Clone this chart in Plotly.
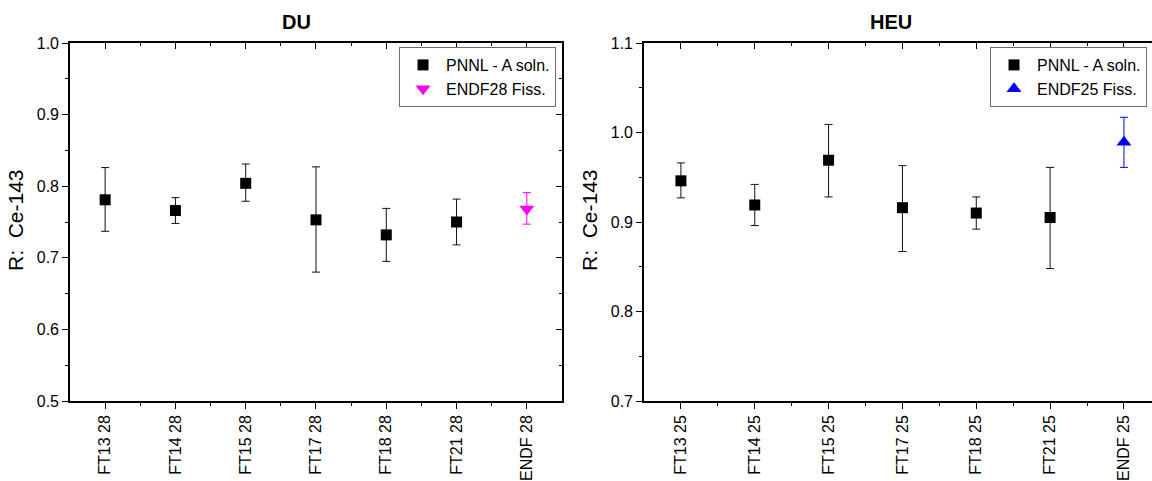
import plotly.graph_objects as go

# ---------------- data ----------------
du_labels = ["FT13 28", "FT14 28", "FT15 28", "FT17 28", "FT18 28", "FT21 28", "ENDF 28"]
du_pnnl = [0.781, 0.766, 0.804, 0.753, 0.732, 0.750]
du_pnnl_hi = [0.826, 0.784, 0.831, 0.827, 0.769, 0.782]
du_pnnl_lo = [0.737, 0.748, 0.779, 0.680, 0.695, 0.718]
du_endf = [0.768]
du_endf_hi = [0.791]
du_endf_lo = [0.747]

heu_labels = ["FT13 25", "FT14 25", "FT15 25", "FT17 25", "FT18 25", "FT21 25", "ENDF 25"]
heu_pnnl = [0.946, 0.919, 0.969, 0.916, 0.910, 0.905]
heu_pnnl_hi = [0.966, 0.942, 1.009, 0.963, 0.928, 0.961]
heu_pnnl_lo = [0.927, 0.896, 0.928, 0.867, 0.892, 0.848]
heu_endf = [0.989]
heu_endf_hi = [1.017]
heu_endf_lo = [0.961]

du_yticks = [0.5, 0.6, 0.7, 0.8, 0.9, 1.0]
heu_yticks = [0.7, 0.8, 0.9, 1.0, 1.1]

FONT = "Arial, Liberation Sans, sans-serif"

def errs(v, hi, lo):
    return ([h - x for x, h in zip(v, hi)], [x - l for x, l in zip(v, lo)])

pos = list(range(1, 8))
minor_x = [p + 0.5 for p in range(1, 7)]

fig = go.Figure()

ep, em = errs(du_pnnl, du_pnnl_hi, du_pnnl_lo)
fig.add_trace(go.Scatter(
    x=pos[:6], y=du_pnnl, mode="markers", name="PNNL - A soln.",
    marker=dict(symbol="square", size=11, color="black"),
    error_y=dict(type="data", array=ep, arrayminus=em, color="#111111", thickness=1, width=4),
    xaxis="x", yaxis="y", legend="legend"))
ep, em = errs(du_endf, du_endf_hi, du_endf_lo)
fig.add_trace(go.Scatter(
    x=pos[6:], y=du_endf, mode="markers", name="ENDF28 Fiss.",
    marker=dict(symbol="triangle-down", size=13, color="#FF00FF"),
    error_y=dict(type="data", array=ep, arrayminus=em, color="#FF00FF", thickness=1, width=4),
    xaxis="x", yaxis="y", legend="legend"))

ep, em = errs(heu_pnnl, heu_pnnl_hi, heu_pnnl_lo)
fig.add_trace(go.Scatter(
    x=pos[:6], y=heu_pnnl, mode="markers", name="PNNL - A soln.",
    marker=dict(symbol="square", size=11, color="black"),
    error_y=dict(type="data", array=ep, arrayminus=em, color="#111111", thickness=1, width=4),
    xaxis="x2", yaxis="y2", legend="legend2"))
ep, em = errs(heu_endf, heu_endf_hi, heu_endf_lo)
fig.add_trace(go.Scatter(
    x=pos[6:], y=heu_endf, mode="markers", name="ENDF25 Fiss.",
    marker=dict(symbol="triangle-up", size=13, color="#0000FF"),
    error_y=dict(type="data", array=ep, arrayminus=em, color="#0000FF", thickness=1, width=4),
    xaxis="x2", yaxis="y2", legend="legend2"))

# empty traces so the mirrored-tick overlay axes exist
fig.add_trace(go.Scatter(x=[], y=[], xaxis="x3", yaxis="y3", showlegend=False, hoverinfo="skip"))
fig.add_trace(go.Scatter(x=[], y=[], xaxis="x4", yaxis="y4", showlegend=False, hoverinfo="skip"))

LW = 1.6
tickfont = dict(family=FONT, size=16, color="black")
xtickfont = dict(family=FONT, size=16, color="black")

xcommon = dict(showgrid=False, zeroline=False, showline=True, linecolor="black", linewidth=LW)
ycommon = dict(showgrid=False, zeroline=False, showline=True, linecolor="black", linewidth=LW)

L_DOM = [0.0, 0.4547]
R_DOM = [0.5305, 1.0]
L_XR = [0.5, 7.5]
R_XR = [0.5, 7.38]
L_YR = [0.5, 1.0]
R_YR = [0.7, 1.1]

def minor_in(**kw):
    return dict(ticklen=3, tickwidth=1.2, tickcolor="black", **kw)

def px_to_paper_x(px):
    return (px - 70) / 1082.0

def px_to_paper_y(py):
    return 1 + (43 - py) / 358.0

fig.update_layout(
    width=1152, height=481,
    margin=dict(l=70, r=0, t=43, b=80),
    plot_bgcolor="white", paper_bgcolor="white",
    font=dict(family=FONT, color="black"),
    xaxis=dict(**xcommon, domain=L_DOM, range=L_XR, anchor="y",
               tickvals=pos, ticktext=du_labels, tickangle=-90, ticks="outside",
               ticklen=6, tickwidth=1.2, tickcolor="black", tickfont=xtickfont,
               minor=minor_in(tickvals=minor_x, ticks="outside")),
    yaxis=dict(**ycommon, domain=[0, 1], range=L_YR, anchor="x",
               tickvals=du_yticks, tickformat=".1f", ticks="outside", ticklen=6, tickwidth=1.2,
               tickcolor="black", tickfont=tickfont,
               minor=minor_in(dtick=0.05, tick0=0.5, ticks="outside")),
    xaxis3=dict(**xcommon, overlaying="x", anchor="y", side="top", range=L_XR,
                tickvals=pos, showticklabels=False, ticks="inside", ticklen=6, tickwidth=1.2,
                tickcolor="black", minor=minor_in(tickvals=minor_x, ticks="inside")),
    yaxis3=dict(**ycommon, overlaying="y", anchor="x", side="right", range=L_YR,
                tickvals=du_yticks, showticklabels=False, ticks="inside", ticklen=6, tickwidth=1.2,
                tickcolor="black", minor=minor_in(dtick=0.05, tick0=0.5, ticks="inside")),
    xaxis2=dict(**xcommon, domain=R_DOM, range=R_XR, anchor="y2",
                tickvals=pos, ticktext=heu_labels, tickangle=-90, ticks="outside",
                ticklen=6, tickwidth=1.2, tickcolor="black", tickfont=xtickfont,
                minor=minor_in(tickvals=minor_x, ticks="outside")),
    yaxis2=dict(**ycommon, domain=[0, 1], range=R_YR, anchor="x2",
                tickvals=heu_yticks, tickformat=".1f", ticks="outside", ticklen=6, tickwidth=1.2,
                tickcolor="black", tickfont=tickfont,
                minor=minor_in(dtick=0.05, tick0=0.7, ticks="outside")),
    xaxis4=dict(**xcommon, overlaying="x2", anchor="y2", side="top", range=R_XR,
                tickvals=pos, showticklabels=False, ticks="inside", ticklen=6, tickwidth=1.2,
                tickcolor="black", minor=minor_in(tickvals=minor_x, ticks="inside")),
    yaxis4=dict(overlaying="y2", anchor="x2", side="right", range=R_YR, visible=False),
    legend=dict(x=0.4492, y=px_to_paper_y(47), xanchor="right", yanchor="top",
                bordercolor="#6e6e6e", borderwidth=1, bgcolor="white",
                font=dict(family=FONT, size=16), tracegroupgap=0, itemwidth=36),
    legend2=dict(x=0.9954, y=px_to_paper_y(47), xanchor="right", yanchor="top",
                 bordercolor="#6e6e6e", borderwidth=1, bgcolor="white",
                 font=dict(family=FONT, size=16), tracegroupgap=0, itemwidth=36),
    showlegend=True,
)

annots = [
    dict(text="<b>DU</b>", x=px_to_paper_x(296), y=px_to_paper_y(22), size=20, angle=0),
    dict(text="<b>HEU</b>", x=px_to_paper_x(891), y=px_to_paper_y(22), size=20, angle=0),
    dict(text="R:  Ce-143", x=px_to_paper_x(16), y=px_to_paper_y(220), size=21, angle=-90),
    dict(text="R:  Ce-143", x=px_to_paper_x(590), y=px_to_paper_y(220), size=21, angle=-90),
]
for a in annots:
    fig.add_annotation(text=a["text"], x=a["x"], y=a["y"], xref="paper", yref="paper",
                       showarrow=False, xanchor="center", yanchor="middle",
                       textangle=a["angle"],
                       font=dict(family=FONT, color="black", size=a["size"]))

fig.write_html("out.html", config={"displayModeBar": False},
               post_script="document.body.style.margin='0';document.body.style.overflow='hidden';")
